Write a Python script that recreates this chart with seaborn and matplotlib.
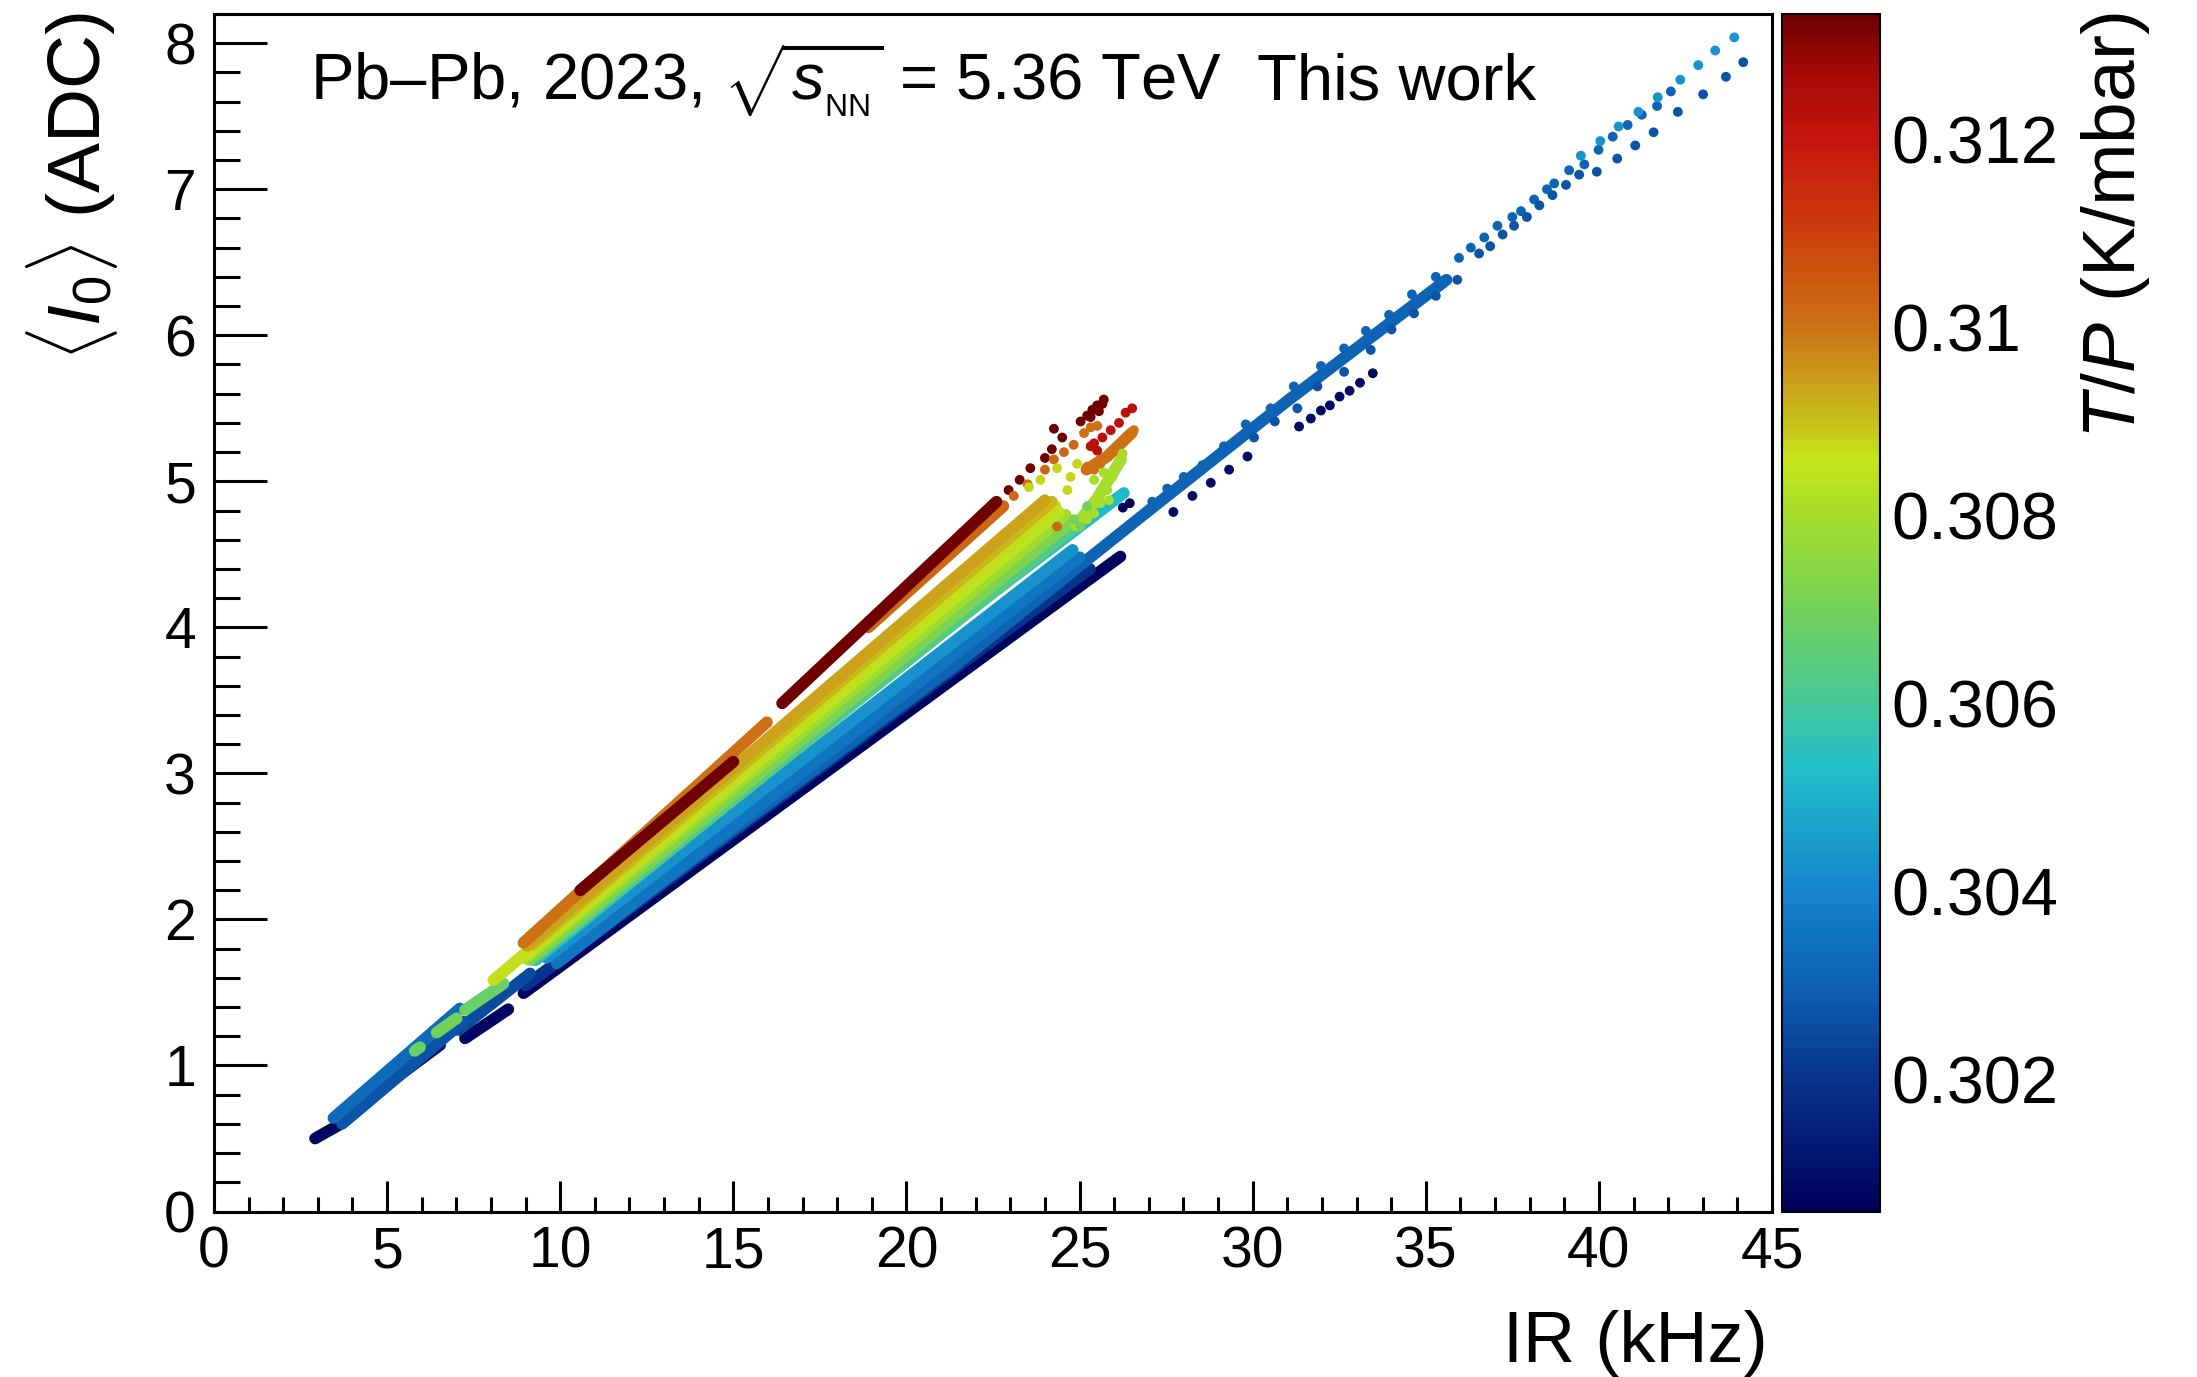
import numpy as np
import pandas as pd
import matplotlib
matplotlib.use("Agg")
import matplotlib.pyplot as plt
from matplotlib.colors import LinearSegmentedColormap, Normalize
from matplotlib.cm import ScalarMappable
from matplotlib.ticker import MultipleLocator, FuncFormatter
import seaborn as sns

# ---------------------------------------------------------------- data
# Dense streaks (one per fill): IR (kHz) vertices, <I0> (ADC) vertices, T/P (K/mbar)
fill_ir = [
    # low-rate fills
    [2.92, 3.59], [3.45, 7.10], [3.70, 7.20], [4.08, 4.60], [5.04, 6.53],
    [5.80, 5.95], [6.43, 7.01], [7.25, 8.50], [7.06, 9.13], [7.25, 8.36],
    # main fan, bottom to top
    [8.94, 26.18], [9.00, 25.30], [9.90, 21.30, 27.00, 31.00, 35.60],
    [9.90, 25.00], [9.60, 24.80], [9.28, 19.83, 26.28], [9.20, 25.00],
    [9.10, 24.80], [9.00, 24.60], [9.00, 24.40], [8.07, 24.30], [9.20, 24.20],
    [9.04, 24.00],
    [8.94, 15.97], [10.58, 15.00], [16.41, 22.60], [18.90, 22.80],
    # fill starts at the highest rate
    [24.90, 25.50, 26.20], [25.20, 25.80, 26.50],
]
fill_i0 = [
    [0.50, 0.59], [0.64, 1.39], [0.60, 1.30], [0.684, 0.786], [0.878, 1.14],
    [1.10, 1.125], [1.225, 1.323], [1.186, 1.385], [1.243, 1.63], [1.38, 1.56],
    [1.495, 4.485], [1.548, 4.40], [1.72, 3.72, 4.80, 5.55, 6.38],
    [1.70, 4.48], [1.738, 4.53], [1.72, 3.755, 4.92], [1.723, 4.71],
    [1.723, 4.73], [1.733, 4.77], [1.751, 4.79], [1.584, 4.83], [1.829, 4.86],
    [1.82, 4.87],
    [1.84, 3.35], [2.20, 3.08], [3.48, 4.86], [4.00, 4.83],
    [4.70, 4.88, 5.15], [5.08, 5.17, 5.33],
]
fill_tp = [
    0.3008, 0.3033, 0.3027, 0.3010, 0.3012,
    0.3068, 0.3070, 0.3008, 0.3025, 0.3068,
    0.3007, 0.3020, 0.3031,
    0.3036, 0.3043, 0.3052, 0.3063,
    0.3072, 0.3079, 0.3084, 0.3087, 0.3091,
    0.3094,
    0.3100, 0.3133, 0.3133, 0.3102,
    0.3080, 0.3100,
]

# Isolated measurements (sparse high-rate tail and fill starts)
dot_ir = [
    # dark red
    22.95, 23.27, 23.58, 24.00, 24.20, 24.26, 24.50, 25.03, 25.22, 25.37, 25.51, 25.66, 25.70, 25.32, 25.56,
    # red
    26.52, 26.33, 26.14, 25.90, 25.66, 25.42, 25.51, 25.32,
    # orange
    26.57, 26.38, 26.19, 26.00, 25.80, 25.60, 25.42, 25.22, 25.13, 25.32, 25.51,
    23.10, 23.50, 24.00, 24.26, 24.55, 24.83, 24.35,
    # lime / yellow / green
    26.24, 26.10, 25.95, 25.80, 25.60, 25.42, 25.22, 25.42, 25.70, 25.85,
    23.54, 23.87, 24.35, 24.74, 24.65, 24.93,
    25.03, 25.22, 24.84,
    # navy near fill start
    26.25, 26.45,
    # blue tail, upper row
    27.10, 27.53, 28.01, 28.55, 29.17, 29.80, 30.52, 31.19, 31.97, 32.64, 33.27, 33.94,
    34.60, 35.29, 35.96, 36.30, 36.69, 37.07, 37.50, 37.75, 38.13, 38.50, 38.71, 39.14,
    39.58, 39.99, 40.40, 40.83, 41.24, 41.68, 42.08,
    # blue tail, lower row
    30.04, 30.64, 31.29, 31.87, 32.64, 33.41, 34.01, 34.66, 35.29, 35.91, 36.54, 36.86,
    37.22, 37.55, 37.92, 38.28, 38.66, 39.05, 39.43, 39.94, 40.53, 41.05, 41.58, 42.28,
    43.01, 43.67, 44.17,
    # light blue tail
    39.48, 40.04, 40.57, 41.14, 41.70, 42.35, 42.87, 43.36, 43.91,
    # navy tail
    27.71, 28.26, 28.79, 29.32, 29.85, 31.34, 31.68, 31.97, 32.23, 32.51, 32.80, 33.10, 33.47,
]
dot_i0 = [
    4.94, 5.01, 5.09, 5.16, 5.22, 5.36, 5.30, 5.41, 5.45, 5.49, 5.52, 5.53, 5.56, 5.44, 5.48,
    5.50, 5.47, 5.40, 5.35, 5.30, 5.26, 5.21, 5.24,
    5.35, 5.31, 5.26, 5.21, 5.17, 5.12, 5.08, 5.10, 5.33, 5.37, 5.38,
    4.90, 4.98, 5.08, 5.15, 5.20, 5.25, 4.69,
    5.19, 5.12, 5.03, 4.94, 4.85, 4.78, 4.74, 5.01, 5.06, 4.87,
    4.96, 5.01, 5.09, 5.03, 4.94, 5.12,
    4.69, 4.83, 4.74,
    4.82, 4.85,
    4.86, 4.95, 5.03, 5.11, 5.24, 5.39, 5.50, 5.65, 5.79, 5.91, 6.03, 6.14,
    6.28, 6.40, 6.53, 6.60, 6.67, 6.75, 6.81, 6.85, 6.93, 7.00, 7.04, 7.13,
    7.17, 7.27, 7.36, 7.44, 7.51, 7.57, 7.67,
    5.30, 5.41, 5.50, 5.65, 5.75, 5.90, 6.04, 6.15, 6.27, 6.38, 6.56, 6.61,
    6.69, 6.75, 6.81, 6.89, 6.96, 7.03, 7.10, 7.12, 7.21, 7.30, 7.39, 7.53,
    7.65, 7.77, 7.87,
    7.23, 7.33, 7.43, 7.53, 7.63, 7.75, 7.85, 7.95, 8.04,
    4.79, 4.90, 4.99, 5.08, 5.17, 5.375, 5.43, 5.485, 5.52, 5.58, 5.62, 5.675, 5.74,
]
dot_tp = (
    [0.3133] * 15 + [0.3122] * 8 + [0.3100] * 11 + [0.3102] * 7
    + [0.3080] * 10 + [0.3088] * 6 + [0.3070] * 3 + [0.3006] * 2
    + [0.3031] * 31 + [0.3027] * 27 + [0.3043] * 9 + [0.3009] * 13
)

# Colour scale of the T/P palette
tp_min, tp_max = 0.3006, 0.31333
palette_tp = [0.3006, 0.3020, 0.3030, 0.3040, 0.3053, 0.3060, 0.3070, 0.3080,
              0.3086, 0.3090, 0.3095, 0.3100, 0.3110, 0.3120, 0.3127, 0.31333]
palette_rgb = [(0.00, 0.00, 0.35), (0.03, 0.20, 0.55), (0.05, 0.38, 0.70),
               (0.08, 0.52, 0.80), (0.13, 0.75, 0.80), (0.27, 0.78, 0.60),
               (0.45, 0.82, 0.35), (0.65, 0.87, 0.17), (0.77, 0.90, 0.10),
               (0.78, 0.75, 0.10), (0.80, 0.60, 0.10), (0.80, 0.45, 0.08),
               (0.80, 0.25, 0.05), (0.78, 0.08, 0.05), (0.65, 0.04, 0.03),
               (0.43, 0.00, 0.00)]
cbar_ticks = [0.302, 0.304, 0.306, 0.308, 0.310, 0.312]

# ---------------------------------------------------------------- style
sns.set_style("white")
plt.rcParams["font.family"] = ["Liberation Sans", "DejaVu Sans"]
plt.rcParams["mathtext.fontset"] = "custom"
plt.rcParams["mathtext.rm"] = "Liberation Sans"
plt.rcParams["mathtext.it"] = "Liberation Sans:italic"
plt.rcParams["mathtext.bf"] = "Liberation Sans:bold"
for key in ("text.color", "axes.labelcolor", "xtick.color", "ytick.color",
            "axes.edgecolor"):
    plt.rcParams[key] = "black"

pos = [(p - tp_min) / (tp_max - tp_min) for p in palette_tp]
tp_cmap = LinearSegmentedColormap.from_list("tp", list(zip(pos, palette_rgb)))
tp_norm = Normalize(tp_min, tp_max)

W, H = 2197, 1377
fig = plt.figure(figsize=(W / 100, H / 100), dpi=100)
x0, x1, y_top, y_bot = 214, 1772, 14, 1211.5
ax = fig.add_axes([x0 / W, 1 - y_bot / H, (x1 - x0) / W, (y_bot - y_top) / H])
cax = fig.add_axes([1782 / W, 1 - y_bot / H, 98 / W, (y_bot - y_top) / H])

# ---------------------------------------------------------------- marks
rows = []
for k, (xs, ys, tp) in enumerate(zip(fill_ir, fill_i0, fill_tp)):
    for xv, yv in zip(xs, ys):
        rows.append((k, xv, yv, tp))
fills = pd.DataFrame(rows, columns=["fill", "IR", "I0", "TP"])
dots = pd.DataFrame({"IR": dot_ir, "I0": dot_i0, "TP": dot_tp})

sns.lineplot(data=fills, x="IR", y="I0", hue="TP", units="fill", estimator=None,
             sort=False, palette=tp_cmap, hue_norm=tp_norm, legend=False,
             linewidth=8.5, solid_capstyle="round", ax=ax)
sns.scatterplot(data=dots, x="IR", y="I0", hue="TP", palette=tp_cmap,
                hue_norm=tp_norm, s=50, linewidth=0, legend=False, ax=ax, zorder=3)

# ---------------------------------------------------------------- axes
ax.set_xlim(0, 45)
ax.set_ylim(0, 8.2)
ax.set_xlabel("")
ax.set_ylabel("")
ax.xaxis.set_major_locator(MultipleLocator(5))
ax.xaxis.set_minor_locator(MultipleLocator(1))
ax.yaxis.set_major_locator(MultipleLocator(1))
ax.yaxis.set_minor_locator(MultipleLocator(0.2))
ax.tick_params(which="both", direction="in", bottom=True, left=True,
               top=False, right=False, width=2.2, color="black",
               labelcolor="black")
ax.tick_params(axis="x", which="major", length=22, labelsize=41, pad=10)
ax.tick_params(axis="x", which="minor", length=11)
ax.tick_params(axis="y", which="major", length=38, labelsize=41, pad=13)
ax.tick_params(axis="y", which="minor", length=19)
for sp in ax.spines.values():
    sp.set_visible(True)
    sp.set_linewidth(2.2)
    sp.set_color("black")

# colour bar
sm = ScalarMappable(norm=tp_norm, cmap=tp_cmap)
cbar = fig.colorbar(sm, cax=cax)
cbar.set_ticks(cbar_ticks)
cbar.ax.yaxis.set_major_formatter(FuncFormatter(lambda v, p: f"{v:g}"))
cbar.ax.minorticks_off()
cax.tick_params(which="major", direction="in", right=True, left=False,
                length=38, width=2.2, labelsize=48, pad=8, color="black",
                labelcolor="black")
cbar.outline.set_linewidth(1.5)
cbar.outline.set_edgecolor("black")

# ---------------------------------------------------------------- texts
fig.text(310 / W, 1 - 100 / H,
         r"Pb–Pb, 2023, $\sqrt{s_{{}_{\mathrm{NN}}}}$ = 5.36 TeV",
         fontsize=47, ha="left", va="baseline")
fig.text(1257 / W, 1 - 100 / H, "This work", fontsize=47, ha="left", va="baseline")
fig.text(1768 / W, 1 - 1362 / H, "IR (kHz)", fontsize=52, ha="right", va="baseline")
fig.text(72 / W, 1 - 12 / H, r"$\langle I_{0} \rangle$ (ADC)", fontsize=54,
         rotation=90, ha="center", va="top")
fig.text(2116 / W, 1 - 12 / H, r"$T/P$ (K/mbar)", fontsize=54,
         rotation=90, ha="center", va="top")

fig.savefig("out.png", dpi=100)
